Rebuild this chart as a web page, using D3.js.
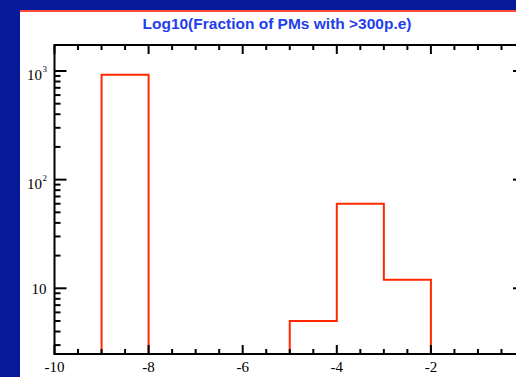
<!DOCTYPE html>
<html>
<head>
<meta charset="utf-8">
<script src="https://cdn.jsdelivr.net/npm/d3@7"></script>
<style>
  html, body { margin: 0; padding: 0; background: #061a9a; }
  svg { display: block; }
</style>
</head>
<body>
<svg id="chart" width="516" height="377"></svg>
<script>
// ---- data ----
const title = "Log10(Fraction of PMs with >300p.e)";
const binStarts = [-10, -9, -8, -7, -6, -5, -4, -3, -2, -1];
const binWidth = 1;
const counts = [0, 925, 0, 0, 0, 5, 60, 12, 0, 0];
const xTickValues = [-10, -8, -6, -4, -2];
const xTickLabels = ["-10", "-8", "-6", "-4", "-2"];
const yMajorTicks = [10, 100, 1000];
const yTickLabels = [{base: "10", exp: ""}, {base: "10", exp: "2"}, {base: "10", exp: "3"}];

(function () {
// ---- layout ----
const svg = d3.select("#chart");
const W = 516, H = 377;
const pLeft = 54.5, pRight = 525, pTop = 45, pBottom = 354;

// backgrounds
svg.append("rect").attr("x", 0).attr("y", 0).attr("width", W).attr("height", H).attr("fill", "#061a9a");
svg.append("rect").attr("x", 20).attr("y", 10).attr("width", W - 20).attr("height", H - 10).attr("fill", "#ffffff");
svg.append("line").attr("x1", 20).attr("x2", W).attr("y1", 11).attr("y2", 11)
  .attr("stroke", "#ff4a3a").attr("stroke-width", 2);

// title
svg.append("text").attr("x", 277).attr("y", 28.5).attr("text-anchor", "middle")
  .attr("font-family", "Liberation Sans, Arial, sans-serif").attr("font-weight", "bold")
  .attr("font-size", 15.4).attr("textLength", 269).attr("lengthAdjust", "spacingAndGlyphs")
  .attr("fill", "#1f40e8").text(title);

// scales
const x = d3.scaleLinear().domain([-10, 0]).range([pLeft, pRight]);
const y = d3.scaleLog().domain([2.485, 1734]).range([pBottom, pTop]);

// clip
svg.append("clipPath").attr("id", "plotclip").append("rect")
  .attr("x", pLeft).attr("y", pTop).attr("width", pRight - pLeft).attr("height", pBottom - pTop);

// histogram outline (step)
const pts = [];
binStarts.forEach((b, i) => {
  const yy = counts[i] > 0 ? y(counts[i]) : pBottom + 5;
  pts.push([x(b), yy]);
  pts.push([x(b + binWidth), yy]);
});
const path = "M" + pts.map(p => p.join(",")).join("L");
svg.append("path").attr("d", path).attr("fill", "none")
  .attr("stroke", "#ff2a00").attr("stroke-width", 2)
  .attr("clip-path", "url(#plotclip)");

// axes
const ax = svg.append("g").attr("stroke", "#000").attr("stroke-width", 2).attr("fill", "none");
ax.append("rect").attr("x", pLeft).attr("y", pTop).attr("width", pRight - pLeft).attr("height", pBottom - pTop);

// x ticks
const xMinor = d3.range(-10, 0.001, 0.5);
xMinor.forEach(v => {
  const isMajor = Math.abs(v % 2) < 1e-9;
  const len = isMajor ? 9 : 5;
  const xx = x(v);
  ax.append("line").attr("x1", xx).attr("x2", xx).attr("y1", pBottom).attr("y2", pBottom - len);
  ax.append("line").attr("x1", xx).attr("x2", xx).attr("y1", pTop).attr("y2", pTop + len);
});

// y ticks (log)
const yAll = [];
[1, 10, 100, 1000].forEach(d => { for (let k = 1; k <= 9; k++) yAll.push(d * k); });
yAll.filter(v => v >= y.domain()[0] && v <= y.domain()[1]).forEach(v => {
  const isMajor = yMajorTicks.includes(v);
  const len = isMajor ? 12 : 6;
  const yy = y(v);
  ax.append("line").attr("x1", pLeft).attr("x2", pLeft + len).attr("y1", yy).attr("y2", yy);
  ax.append("line").attr("x1", pRight).attr("x2", pRight - len).attr("y1", yy).attr("y2", yy);
});

// x tick labels
const serif = "Liberation Serif, Times New Roman, serif";
xTickValues.forEach((v, i) => {
  svg.append("text").attr("x", x(v)).attr("y", 371.5).attr("text-anchor", "middle")
    .attr("font-family", serif).attr("font-size", 15).attr("fill", "#000").text(xTickLabels[i]);
});

// y tick labels
yMajorTicks.forEach((v, i) => {
  const lab = yTickLabels[i];
  const yy = y(v);
  if (lab.exp === "") {
    svg.append("text").attr("x", 46.5).attr("y", yy + 5.5).attr("text-anchor", "end")
      .attr("font-family", serif).attr("font-size", 15).attr("fill", "#000").text(lab.base);
  } else {
    svg.append("text").attr("x", 42).attr("y", yy + 9.5).attr("text-anchor", "end")
      .attr("font-family", serif).attr("font-size", 15).attr("fill", "#000").text(lab.base);
    svg.append("text").attr("x", 42.5).attr("y", yy + 1.5).attr("text-anchor", "start")
      .attr("font-family", serif).attr("font-size", 9).attr("fill", "#000").text(lab.exp);
  }
});
})();
</script>
</body>
</html>
